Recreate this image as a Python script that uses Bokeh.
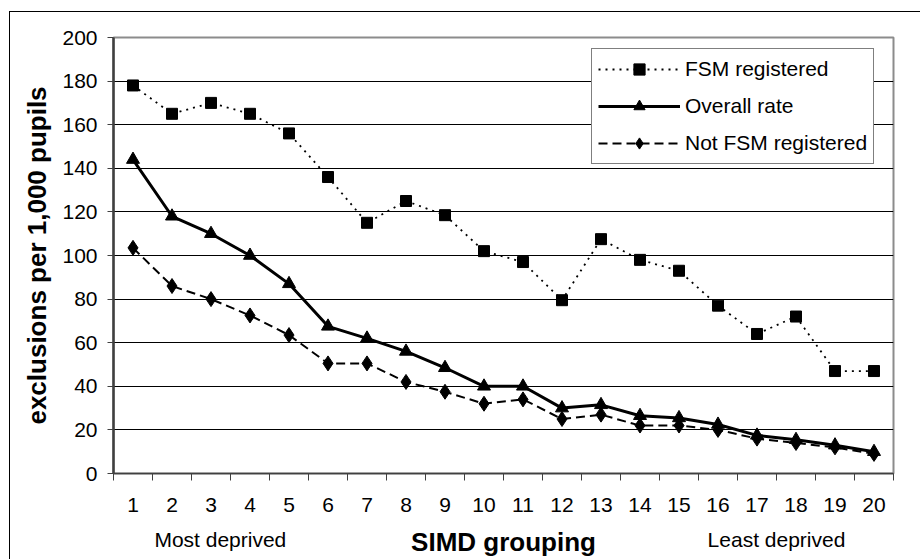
from bokeh.plotting import figure
from bokeh.models import Range1d, FixedTicker, Legend, LegendItem, LinearAxis
from bokeh.embed import file_html
from bokeh.resources import INLINE

groups = list(range(1, 21))
fsm = [178, 165, 170, 165, 156, 136, 115, 125, 118.5, 102, 97, 79.5, 107.5, 98, 93, 77, 64, 72, 47, 47]
overall = [144, 118, 110, 100, 87, 67.5, 62, 56, 48.5, 40, 40, 30, 31.5, 26.5, 25.5, 22.5, 17.5, 15.5, 13, 10]
not_fsm = [103.5, 86, 80, 72.5, 63.5, 50.5, 50.5, 42, 37.5, 32, 34, 25, 27, 22, 22, 20, 16, 14, 12, 9]
y_ticks = list(range(0, 201, 20))
end_labels = {3.24: "Most deprived", 17.5: "Least deprived"}

FONT = "Liberation Sans"

p = figure(width=911, height=548, output_backend="svg", toolbar_location=None,
           x_range=Range1d(0.5, 20.5), y_range=Range1d(0, 200),
           min_border_left=103, min_border_right=28, min_border_top=25, min_border_bottom=87)
p.styles = {"border-left": "1px solid black", "border-top": "1px solid black",
            "margin-left": "9px", "margin-top": "11px"}
p.outline_line_color = "#8c8c8c"
p.outline_line_width = 2
p.background_fill_color = "white"
p.border_fill_color = "white"

# x axis with group numbers
xa = p.below[0]
xa.ticker = FixedTicker(ticks=groups, minor_ticks=[g - 0.5 for g in groups] + [20.5])
xa.major_tick_line_color = None
xa.major_tick_out = 0
xa.minor_tick_out = 7
xa.minor_tick_in = 0
xa.minor_tick_line_color = "#404040"
xa.axis_line_color = "#404040"
xa.axis_line_width = 1.5
xa.major_label_standoff = 17
xa.major_label_text_font = FONT
xa.major_label_text_font_size = "21px"
xa.major_label_text_color = "black"

# second x axis: end descriptions + axis title on the same line
xa2 = LinearAxis(ticker=FixedTicker(ticks=list(end_labels.keys()), minor_ticks=[]),
                 major_label_overrides=end_labels)
xa2.axis_line_color = None
xa2.major_tick_line_color = None
xa2.major_tick_out = 0
xa2.major_tick_in = 0
xa2.major_label_standoff = 13
xa2.major_label_text_font = FONT
xa2.major_label_text_font_size = "21px"
xa2.major_label_text_color = "black"
xa2.axis_label = "SIMD grouping"
xa2.axis_label_text_font = FONT
xa2.axis_label_text_font_size = "26px"
xa2.axis_label_text_font_style = "bold"
xa2.axis_label_text_color = "black"
xa2.axis_label_standoff = -27
p.add_layout(xa2, "below")

ya = p.left[0]
ya.ticker = FixedTicker(ticks=y_ticks, minor_ticks=[])
ya.major_tick_out = 6
ya.major_tick_in = 0
ya.major_tick_line_color = "#404040"
ya.axis_line_color = "#404040"
ya.axis_line_width = 2.5
ya.major_label_standoff = 10
ya.major_label_text_font = FONT
ya.major_label_text_font_size = "21px"
ya.major_label_text_color = "black"
ya.axis_label = "exclusions per 1,000 pupils"
ya.axis_label_text_font = FONT
ya.axis_label_text_font_size = "26px"
ya.axis_label_text_font_style = "bold"
ya.axis_label_text_color = "black"
ya.axis_label_standoff = 7

p.xgrid.grid_line_color = None
p.ygrid.grid_line_color = "black"
p.ygrid.grid_line_width = 1
p.ygrid.ticker = FixedTicker(ticks=y_ticks[1:-1])

# series
l1 = p.line(groups, fsm, line_color="black", line_width=1.8, line_dash="2 5")
m1 = p.scatter(groups, fsm, marker="square", size=11, fill_color="black", line_color="black")
l2 = p.line(groups, overall, line_color="black", line_width=3)
m2 = p.scatter(groups, overall, marker="triangle", size=13, fill_color="black", line_color="black")
l3 = p.line(groups, not_fsm, line_color="black", line_width=2, line_dash="9 5")
m3 = p.scatter(groups, not_fsm, marker="diamond", size=15, fill_color="black", line_color="black")

legend = Legend(items=[
    LegendItem(label="FSM registered", renderers=[l1, m1]),
    LegendItem(label="Overall rate", renderers=[l2, m2]),
    LegendItem(label="Not FSM registered", renderers=[l3, m3]),
], location=(478, 309))
legend.label_text_font = FONT
legend.label_text_font_size = "21px"
legend.label_text_color = "black"
legend.glyph_width = 82
legend.glyph_height = 28
legend.label_height = 28
legend.label_standoff = 5
legend.padding = 6
legend.spacing = 9
legend.margin = 0
legend.border_line_color = "black"
legend.border_line_width = 1
legend.background_fill_alpha = 1
p.add_layout(legend, "center")

open("out.html", "w").write(file_html(p, INLINE))
